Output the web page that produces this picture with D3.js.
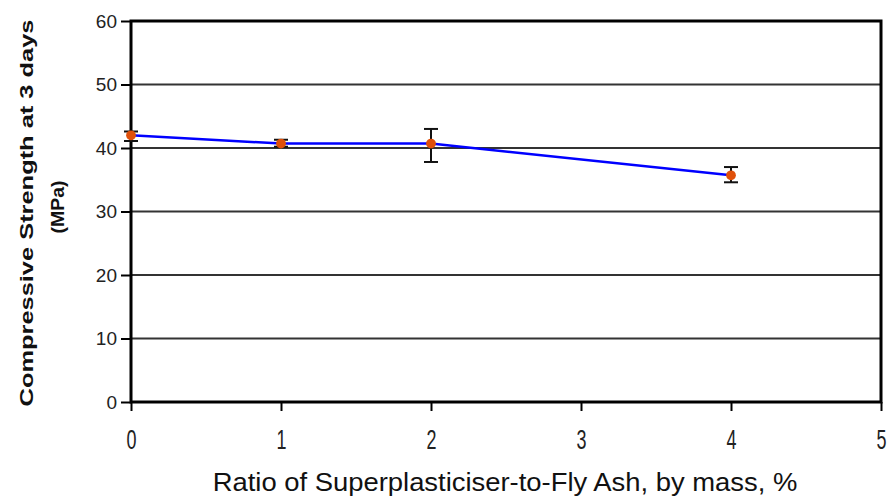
<!DOCTYPE html>
<html>
<head>
<meta charset="utf-8">
<script src="https://cdn.jsdelivr.net/npm/d3@7"></script>
<style>
  body { margin: 0; background: #fff; }
  text { font-family: "Liberation Sans", Arial, sans-serif; }
</style>
</head>
<body>
<div id="chart"></div>
<script>
var width  = 892;
var height = 499;

// data
var ratio    = [0, 1, 2, 4];
var strength = [42.0, 40.7, 40.7, 35.7];
var errUp    = [0.6, 0.6, 2.3, 1.3];
var errDown  = [0.9, 0.5, 2.9, 1.1];
var xTicks   = [0, 1, 2, 3, 4, 5];
var yTicks   = [0, 10, 20, 30, 40, 50, 60];

var margin = { top: 21, right: 11, bottom: 97, left: 131 };

var x = d3.scaleLinear().domain([0, 5]).range([margin.left, width - margin.right]);
var y = d3.scaleLinear().domain([0, 60]).range([height - margin.bottom, margin.top]);

var svg = d3.select('#chart')
  .append('svg')
  .attr('width', width)
  .attr('height', height);

// squeeze or stretch a text horizontally so it is `len` px long
function fitWidth(sel, len) {
  sel.each(function() {
    var w = this.getComputedTextLength();
    d3.select(this).attr('transform', 'scale(' + (len / w) + ',1)');
  });
}

// gridlines
svg.append('g')
  .selectAll('line')
  .data(yTicks.slice(1))
  .enter()
  .append('line')
  .attr('x1', x(0)).attr('x2', x(5))
  .attr('y1', function(d) { return y(d); })
  .attr('y2', function(d) { return y(d); })
  .style('stroke', '#333')
  .style('stroke-width', 2);

// frame
svg.append('rect')
  .attr('x', x(0)).attr('y', y(60))
  .attr('width', x(5) - x(0)).attr('height', y(0) - y(60))
  .style('fill', 'none')
  .style('stroke', '#000')
  .style('stroke-width', 3);

var xAxis = svg.append('g')
  .attr('transform', 'translate(0,' + y(0) + ')')
  .call(d3.axisBottom(x).tickValues(xTicks).tickSize(9).tickPadding(0).tickFormat(d3.format('d')));

var yAxis = svg.append('g')
  .attr('transform', 'translate(' + x(0) + ',0)')
  .call(d3.axisLeft(y).tickValues(yTicks).tickSize(10).tickPadding(4).tickFormat(d3.format('d')));

[xAxis, yAxis].forEach(function(g) {
  g.select('.domain').remove();
  g.selectAll('.tick line').style('stroke', '#000').style('stroke-width', 2);
  g.selectAll('.tick text').style('fill', '#222');
});

yAxis.selectAll('.tick text').style('font-size', '19px');
xAxis.selectAll('.tick text')
  .style('font-size', '27px')
  .attr('y', 47)
  .attr('dy', null)
  .call(fitWidth, 10);

// error bars
var pts = ratio.map(function(r, i) {
  return { x: r, y: strength[i], hi: strength[i] + errUp[i], lo: strength[i] - errDown[i] };
});

var eb = svg.append('g').selectAll('g')
  .data(pts)
  .enter()
  .append('g')
  .style('stroke', '#111')
  .style('stroke-width', 2);

eb.append('line')
  .attr('x1', function(d) { return x(d.x); })
  .attr('x2', function(d) { return x(d.x); })
  .attr('y1', function(d) { return y(d.hi); })
  .attr('y2', function(d) { return y(d.lo); });
eb.append('line')
  .attr('x1', function(d) { return x(d.x) - 7; })
  .attr('x2', function(d) { return x(d.x) + 7; })
  .attr('y1', function(d) { return y(d.hi); })
  .attr('y2', function(d) { return y(d.hi); });
eb.append('line')
  .attr('x1', function(d) { return x(d.x) - 7; })
  .attr('x2', function(d) { return x(d.x) + 7; })
  .attr('y1', function(d) { return y(d.lo); })
  .attr('y2', function(d) { return y(d.lo); });

// series line
var line = d3.line()
  .x(function(d) { return x(d.x); })
  .y(function(d) { return y(d.y); });

svg.append('path')
  .datum(pts)
  .attr('d', line)
  .style('fill', 'none')
  .style('stroke', '#0000ff')
  .style('stroke-width', 2.5);

// markers
svg.append('g').selectAll('path')
  .data(pts)
  .enter()
  .append('path')
  .attr('d', d3.symbol().type(d3.symbolCircle).size(75))
  .attr('transform', function(d) { return 'translate(' + x(d.x) + ',' + y(d.y) + ')'; })
  .style('fill', '#e0500a');

// axis titles
svg.append('g')
  .attr('transform', 'translate(' + 505 + ',' + 491 + ')')
  .append('text')
  .attr('text-anchor', 'middle')
  .style('font-size', '25px')
  .style('fill', '#111')
  .text('Ratio of Superplasticiser-to-Fly Ash, by mass, %')
  .call(fitWidth, 585);

svg.append('g')
  .attr('transform', 'translate(33,213)rotate(-90)')
  .append('text')
  .attr('text-anchor', 'middle')
  .style('font-size', '18px')
  .style('font-weight', 'bold')
  .style('fill', '#111')
  .text('Compressive Strength at 3 days')
  .call(fitWidth, 387);

svg.append('g')
  .attr('transform', 'translate(64,207)rotate(-90)')
  .append('text')
  .attr('text-anchor', 'middle')
  .style('font-size', '18px')
  .style('font-weight', 'bold')
  .style('fill', '#111')
  .text('(MPa)')
  .call(fitWidth, 53);
</script>
</body>
</html>
